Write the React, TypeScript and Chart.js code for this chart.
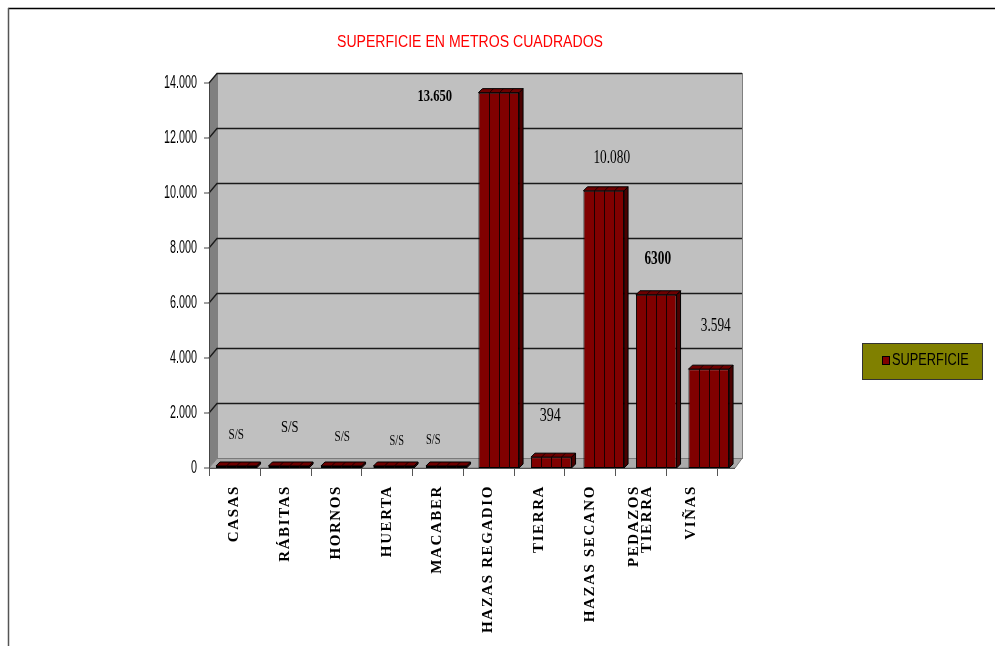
import { useEffect, useRef } from 'react';
import { Chart, registerables } from 'chart.js';

Chart.register(...registerables);

// ---- data ----
const categories: (string | string[])[] = [
  'CASAS', 'RÁBITAS', 'HORNOS', 'HUERTA', 'MACABER',
  'HAZAS REGADIO', 'TIERRA', 'HAZAS SECANO', ['PEDAZOS', 'TIERRA'], 'VIÑAS',
];
const superficie = [0, 0, 0, 0, 0, 13650, 394, 10080, 6300, 3594];
const valueLabels = ['S/S', 'S/S', 'S/S', 'S/S', 'S/S', '13.650', '394', '10.080', '6300', '3.594'];
const yTickValues = [0, 2000, 4000, 6000, 8000, 10000, 12000, 14000];
const yTickLabels = ['0', '2.000', '4.000', '6.000', '8.000', '10.000', '12.000', '14.000'];
const seriesName = 'SUPERFICIE';
const chartTitle = 'SUPERFICIE EN METROS CUADRADOS';

// ---- style / layout (not data) ----
const BAR_RED = '#800000';
const labelNudges = [
  { dx: 0, dy: -31, size: 15, bold: false },
  { dx: 1, dy: -38, size: 17, bold: false },
  { dx: 1, dy: -29, size: 15, bold: false },
  { dx: 3, dy: -25, size: 14, bold: false },
  { dx: -13, dy: -26, size: 14, bold: false },
  { dx: -64, dy: 4, size: 17, bold: true },
  { dx: -1, dy: -41, size: 19, bold: false },
  { dx: 8, dy: -33, size: 18, bold: false },
  { dx: 1.5, dy: -35, size: 18, bold: true },
  { dx: 7, dy: -43, size: 18, bold: false },
];

function condensedText(
  ctx: CanvasRenderingContext2D, text: string, x: number, y: number,
  font: string, sx: number, align: CanvasTextAlign, color: string,
) {
  ctx.save();
  ctx.font = font;
  ctx.fillStyle = color;
  ctx.textAlign = align;
  ctx.textBaseline = 'middle';
  ctx.translate(x, y);
  ctx.scale(sx, 1);
  ctx.fillText(text, 0, 0);
  ctx.restore();
}

const DEPTH_X = 8;
const DEPTH_Y = 9.5;
const BAR_DX = 4;
const BAR_DY = 4;
const FRONT_RATIO = 0.965;

const excel3dPlugin = {
  id: 'excel3d',
  beforeDatasetsDraw(chart: any) {
    const ctx: CanvasRenderingContext2D = chart.ctx;
    const { left, right, bottom } = chart.chartArea;
    const ys = chart.scales.y;
    ctx.save();
    // frame
    ctx.strokeStyle = '#000';
    ctx.lineWidth = 1.5;
    ctx.beginPath();
    ctx.moveTo(8, 8.5);
    ctx.lineTo(chart.width, 8.5);
    ctx.stroke();
    ctx.strokeStyle = '#555';
    ctx.beginPath();
    ctx.moveTo(8.5, 8);
    ctx.lineTo(8.5, chart.height);
    ctx.stroke();

    // title
    condensedText(ctx, chartTitle, 470, 43, '16px "Liberation Sans", Arial, sans-serif', 0.88, 'center', '#FF0000');

    const fl = left - 1;
    const topFront = ys.getPixelForValue(yTickValues[yTickValues.length - 1]);
    const bl = fl + DEPTH_X;
    const br = right + 7;
    const topBack = topFront - DEPTH_Y;
    const bottomBack = bottom - DEPTH_Y;

    // back wall
    ctx.fillStyle = '#C0C0C0';
    ctx.fillRect(bl, topBack, br - bl, bottomBack - topBack);
    ctx.strokeStyle = '#808080';
    ctx.lineWidth = 1;
    ctx.strokeRect(bl + 0.5, topBack, br - bl, bottomBack - topBack);

    // left wall
    ctx.fillStyle = '#808080';
    ctx.beginPath();
    ctx.moveTo(fl, topFront);
    ctx.lineTo(bl, topBack);
    ctx.lineTo(bl, bottomBack);
    ctx.lineTo(fl, bottom);
    ctx.closePath();
    ctx.fill();

    // floor
    ctx.fillStyle = '#ABABAB';
    ctx.beginPath();
    ctx.moveTo(fl, bottom);
    ctx.lineTo(bl, bottomBack);
    ctx.lineTo(br, bottomBack);
    ctx.lineTo(right, bottom);
    ctx.closePath();
    ctx.fill();
    ctx.strokeStyle = '#7a7a7a';
    ctx.stroke();

    // gridlines
    ctx.strokeStyle = '#1a1a1a';
    ctx.lineWidth = 1.3;
    yTickValues.forEach((v) => {
      if (v === 0) return;
      const yf = ys.getPixelForValue(v);
      const yb = yf - DEPTH_Y;
      ctx.beginPath();
      ctx.moveTo(fl, yf);
      ctx.lineTo(bl, yb);
      ctx.lineTo(br, yb);
      ctx.stroke();
    });

    // y axis line + ticks + labels
    ctx.strokeStyle = '#444';
    ctx.lineWidth = 1;
    ctx.beginPath();
    ctx.moveTo(fl + 0.5, topFront);
    ctx.lineTo(fl + 0.5, bottom);
    ctx.stroke();
    yTickValues.forEach((v, i) => {
      const yf = ys.getPixelForValue(v);
      ctx.beginPath();
      ctx.moveTo(fl - 5, yf);
      ctx.lineTo(fl, yf);
      ctx.stroke();
      condensedText(ctx, yTickLabels[i], fl - 12, yf, '18px "Liberation Sans", Arial, sans-serif', 0.6, 'right', '#000');
    });

    // x axis line + ticks + labels
    const fr = left + (right - left) * FRONT_RATIO;
    const step = (fr - fl) / categories.length;
    ctx.strokeStyle = '#555';
    ctx.beginPath();
    ctx.moveTo(fl, bottom + 0.5);
    ctx.lineTo(right, bottom + 0.5);
    ctx.stroke();
    for (let i = 0; i <= categories.length; i++) {
      const tx = Math.round(fl + i * step) + 0.5;
      ctx.beginPath();
      ctx.moveTo(tx, bottom);
      ctx.lineTo(tx, bottom + 8);
      ctx.stroke();
    }
    ctx.fillStyle = '#000';
    ctx.font = 'bold 15px "Liberation Serif", "Times New Roman", serif';
    (ctx as any).letterSpacing = '1.6px';
    ctx.textAlign = 'right';
    ctx.textBaseline = 'middle';
    categories.forEach((c, i) => {
      const lines = Array.isArray(c) ? c : [c];
      const cx = fl + (i + 0.5) * step;
      lines.forEach((ln, k) => {
        const off = (k - (lines.length - 1) / 2) * 13;
        ctx.save();
        ctx.translate(cx + off, bottom + 17);
        ctx.rotate(-Math.PI / 2);
        ctx.fillText(ln, 0, 0);
        ctx.restore();
      });
    });
    (ctx as any).letterSpacing = '0px';
    ctx.restore();
  },
  afterDatasetsDraw(chart: any) {
    const ctx: CanvasRenderingContext2D = chart.ctx;
    const meta = chart.getDatasetMeta(0);
    ctx.save();
    meta.data.forEach((bar: any, i: number) => {
      const { x, y, base, width } = bar.getProps(['x', 'y', 'base', 'width'], true);
      const l = x - width / 2;
      const r = x + width / 2;
      ctx.lineWidth = 1;
      ctx.strokeStyle = '#000';
      // side face
      ctx.fillStyle = '#4a0000';
      ctx.beginPath();
      ctx.moveTo(r, y);
      ctx.lineTo(r + BAR_DX, y - BAR_DY);
      ctx.lineTo(r + BAR_DX, base - BAR_DY);
      ctx.lineTo(r, base);
      ctx.closePath();
      ctx.fill();
      ctx.stroke();
      // top face
      ctx.fillStyle = '#6e0000';
      ctx.beginPath();
      ctx.moveTo(l, y);
      ctx.lineTo(l + BAR_DX, y - BAR_DY);
      ctx.lineTo(r + BAR_DX, y - BAR_DY);
      ctx.lineTo(r, y);
      ctx.closePath();
      ctx.fill();
      ctx.stroke();
      // strips
      ctx.strokeStyle = '#1a0000';
      for (let k = 1; k < 4; k++) {
        const sx = Math.round(l + (width * k) / 4) + 0.5;
        ctx.beginPath();
        ctx.moveTo(sx + BAR_DX, y - BAR_DY);
        ctx.lineTo(sx, y);
        ctx.lineTo(sx, base);
        ctx.stroke();
      }
      // value label
      const n = labelNudges[i];
      condensedText(
        ctx, valueLabels[i], x + n.dx, y + n.dy,
        `${n.bold ? 'bold ' : ''}${n.size}px "Liberation Serif", "Times New Roman", serif`,
        0.74, 'center', '#000',
      );
    });
    ctx.restore();
  },
  afterDraw(chart: any) {
    const ctx: CanvasRenderingContext2D = chart.ctx;
    ctx.save();
    ctx.fillStyle = '#808000';
    ctx.fillRect(862.5, 343.5, 120, 36);
    ctx.strokeStyle = '#333';
    ctx.lineWidth = 1;
    ctx.strokeRect(862.5, 343.5, 120, 36);
    ctx.fillStyle = BAR_RED;
    ctx.fillRect(882.5, 356.5, 7, 8);
    ctx.strokeStyle = '#000';
    ctx.strokeRect(882.5, 356.5, 7, 8);
    condensedText(ctx, seriesName, 892, 361, '16px "Liberation Sans", Arial, sans-serif', 0.8, 'left', '#000');
    ctx.restore();
  },
};

export default function App() {
  const ref = useRef<HTMLCanvasElement | null>(null);
  useEffect(() => {
    if (!ref.current) return;
    const chart = new Chart(ref.current, {
      type: 'bar',
      data: {
        labels: categories,
        datasets: [
          {
            label: seriesName,
            data: superficie,
            backgroundColor: BAR_RED,
            borderColor: '#000',
            borderWidth: 1,
            borderSkipped: false,
            minBarLength: 2,
            categoryPercentage: 0.8,
            barPercentage: 0.967,
            clip: false as any,
          },
        ],
      },
      options: {
        animation: false,
        responsive: false,
        layout: { padding: { left: 210, right: 260, top: 83, bottom: 178 } },
        scales: {
          x: { display: false },
          y: { display: false, min: 0, max: 14000 },
        },
        plugins: {
          legend: { display: false },
          tooltip: { enabled: false },
          title: { display: false },
        },
      },
      plugins: [excel3dPlugin],
    });
    return () => chart.destroy();
  }, []);
  return (
    <div style={{ position: 'absolute', left: 0, top: 0, width: 995, height: 646, background: '#fff' }}>
      <canvas ref={ref} width={995} height={646} style={{ display: 'block' }} />
    </div>
  );
}
